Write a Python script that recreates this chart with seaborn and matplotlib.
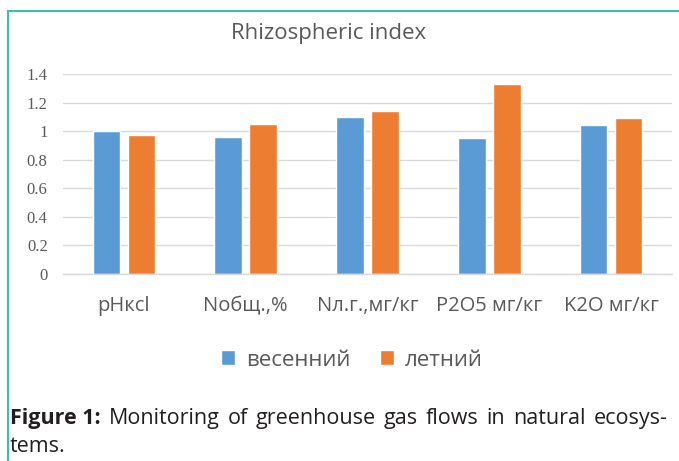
import matplotlib
matplotlib.use("Agg")
import matplotlib.pyplot as plt
import seaborn as sns
import pandas as pd
from matplotlib.patches import Rectangle

categories = ["pHкcl", "Nобщ.,%", "Nл.г.,мг/кг", "P2O5 мг/кг", "K2O мг/кг"]
series_names = ["весенний", "летний"]
spring = [1.00, 0.96, 1.10, 0.95, 1.04]
summer = [0.97, 1.05, 1.14, 1.33, 1.09]
y_ticks = [0, 0.2, 0.4, 0.6, 0.8, 1, 1.2, 1.4]
y_tick_labels = ["0", "0.2", "0.4", "0.6", "0.8", "1", "1.2", "1.4"]
title = "Rhizospheric index"
caption_bold = "Figure 1:"
caption_line1 = "Monitoring of greenhouse gas flows in natural ecosys-"
caption_line2 = "tems."

df = pd.DataFrame({
    "param": categories * 2,
    "value": spring + summer,
    "season": [series_names[0]] * len(categories) + [series_names[1]] * len(categories),
})

sns.set_theme(style="white")
plt.rcParams["font.family"] = ["Open Sans", "DejaVu Sans"]

W, H = 679, 461
fig = plt.figure(figsize=(W / 100, H / 100), dpi=100)

ax = fig.add_axes([63 / W, 1 - 274 / H, (672 - 63) / W, (274 - 74) / H])
sns.barplot(data=df, x="param", y="value", hue="season",
            palette=["#5B9BD5", "#ED7D31"], width=0.574, gap=0.21,
            saturation=1, ax=ax, errorbar=None)
ax.set_ylim(0, 1.4)
ax.set_xlim(-0.5, len(categories) - 0.5)
ax.set_yticks(y_ticks)
ax.set_yticklabels(y_tick_labels, family=["Liberation Serif"], fontsize=12, color="#595959")
ax.set_xlabel("")
ax.set_ylabel("")
ax.set_xticks(range(len(categories)))
ax.set_xticklabels(categories, fontsize=14.5, color="#595959")
ax.tick_params(axis="x", length=0, pad=16)
ax.tick_params(axis="y", length=0, pad=11)
ax.grid(axis="y", color="#d9d9d9", linewidth=1)
ax.set_axisbelow(True)
for s in ["top", "right", "left"]:
    ax.spines[s].set_visible(False)
ax.spines["bottom"].set_color("#d9d9d9")
ax.spines["bottom"].set_linewidth(1)

handles, labels = ax.get_legend_handles_labels()
if ax.legend_ is not None:
    ax.legend_.remove()
fig.legend(handles, labels, loc="center", bbox_to_anchor=(352 / W, 1 - 360 / H),
           ncol=2, frameon=False, handlelength=0.65, handleheight=0.65,
           handletextpad=0.5, columnspacing=1.3, fontsize=16,
           labelcolor="#595959", borderaxespad=0, borderpad=0)

fig.text(329 / W, 1 - 33 / H, title, ha="center", va="center",
         fontsize=16, color="#595959")

# frame border (teal)
fig.patches.append(Rectangle((8 / W, -0.1), 1.2, 1 - 11 / H + 0.1,
                             transform=fig.transFigure, fill=False,
                             edgecolor="#3cbfae", linewidth=1.5))

# caption, justified first line
fig.canvas.draw()
renderer = fig.canvas.get_renderer()
left_px, right_px = 10, 668
y1 = 1 - 418 / H
y2 = 1 - 446 / H
cap_fs = 15.5
words = [(caption_bold, "bold")] + [(w, "normal") for w in caption_line1.split(" ")]
texts = []
widths = []
for w, wt in words:
    t = fig.text(0, y1, w, ha="left", va="center", fontsize=cap_fs,
                 fontweight=wt, color="#231f20")
    bb = t.get_window_extent(renderer)
    texts.append(t)
    widths.append(bb.width)
gap = (right_px - left_px - sum(widths)) / (len(words) - 1)
x = left_px
for t, wd in zip(texts, widths):
    t.set_x(x / W)
    x += wd + gap
fig.text(left_px / W, y2, caption_line2, ha="left", va="center",
         fontsize=cap_fs, color="#231f20")

fig.savefig("out.png", dpi=100)
